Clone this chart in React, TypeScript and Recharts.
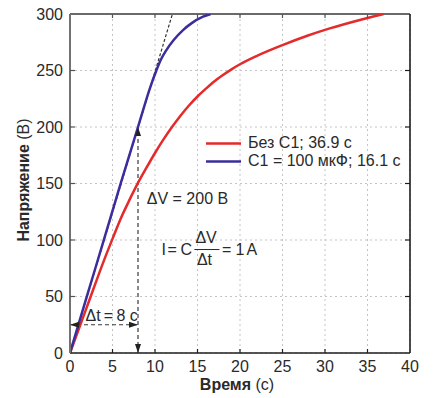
import { ComposedChart, Line, Scatter, XAxis, YAxis, CartesianGrid, Legend, ReferenceLine } from "recharts";

const X_TICKS = [0, 5, 10, 15, 20, 25, 30, 35, 40];
const Y_TICKS = [0, 50, 100, 150, 200, 250, 300];

// без C1
const redTime = [0, 2, 4, 5, 6, 7, 8, 9, 10, 11, 12, 13, 14, 15, 16, 17, 18, 19, 20, 22, 25, 28, 30, 33, 35, 36.9];
const redVolt = [0, 41, 82, 101, 119.5, 135.5, 150.5, 164, 177, 189, 200, 210, 219, 227, 234, 240.5, 246, 251, 255.5, 263, 272.5, 281, 286, 292.5, 296.5, 300];

// C1 = 100 мкФ
const blueTime = [0, 2, 4, 6, 8, 8.6, 9.3, 10.16, 10.67, 11.34, 12.2, 13.3, 14.28, 15.65, 16.55];
const blueVolt = [0, 50.5, 100.5, 151, 200, 215, 232, 250, 259.3, 268.1, 277, 285.8, 291.7, 297.6, 300];

// касательная и размерные стрелки
const tangentTime = [0, 12.05];
const tangentVolt = [0, 300];
const dtLine = [{ x: 0, y: 25 }, { x: 8, y: 25 }];
const dvLine = [{ x: 8, y: 0 }, { x: 8, y: 200 }];

const LEGEND = [
  { label: "Без C1; 36.9 c", color: "#e42a2a" },
  { label: "C1 = 100 мкФ; 16.1 c", color: "#3b2e9c" },
];

const FONT = "'Liberation Sans', Arial, sans-serif";
const INK = "#2a2a2a";

const toPoints = (xs: number[], ys: number[]) => xs.map((x, i) => ({ x, y: ys[i] }));
const redData = toPoints(redTime, redVolt);
const blueData = toPoints(blueTime, blueVolt);
const tangentData = toPoints(tangentTime, tangentVolt);

const bottomTicks = X_TICKS.slice(1, -1).map((x) => ({ x, y: 0 }));
const topTicks = X_TICKS.slice(1, -1).map((x) => ({ x, y: 300 }));
const leftTicks = Y_TICKS.slice(1, -1).map((y) => ({ x: 0, y }));
const rightTicks = Y_TICKS.slice(1, -1).map((y) => ({ x: 40, y }));

const arrowUp = [{ x: 8, y: 200 }];
const arrowDown = [{ x: 8, y: 0 }];
const arrowLeft = [{ x: 0, y: 25 }];
const arrowRight = [{ x: 8, y: 25 }];

const dtLabelPos = [{ x: 4.9, y: 28.3 }];
const dvLabelPos = [{ x: 9.03, y: 132.3 }];
const formulaPos = [{ x: 10.75, y: 86.7 }];

const tick = (dx: number, dy: number, color: string) => (p: any) =>
  <line x1={p.cx} y1={p.cy} x2={p.cx + dx} y2={p.cy + dy} stroke={color} strokeWidth={1.2} />;

const arrow = (dir: "up" | "down" | "left" | "right") => (p: any) => {
  const { cx, cy } = p;
  const L = 9, W = 3;
  let pts = "";
  if (dir === "up") pts = `${cx},${cy} ${cx - W},${cy + L} ${cx + W},${cy + L}`;
  if (dir === "down") pts = `${cx},${cy} ${cx - W},${cy - L} ${cx + W},${cy - L}`;
  if (dir === "left") pts = `${cx},${cy} ${cx + L},${cy - W} ${cx + L},${cy + W}`;
  if (dir === "right") pts = `${cx},${cy} ${cx - L},${cy - W} ${cx - L},${cy + W}`;
  return <polygon points={pts} fill="#222" />;
};

const textShape = (str: string, anchor: "start" | "middle" = "start") => (p: any) =>
  <text x={p.cx} y={p.cy} textAnchor={anchor} fontSize={16} fill={INK} fontFamily={FONT}>{str}</text>;

// I = C·ΔV/Δt = 1 A
const formulaShape = (p: any) => {
  const { cx, cy } = p;
  return (
    <g fontSize={16} fill={INK} fontFamily={FONT}>
      <text x={cx} y={cy}>I</text>
      <text x={cx + 6} y={cy}>=</text>
      <text x={cx + 19} y={cy}>C</text>
      <text x={cx + 34} y={cy - 12}>ΔV</text>
      <line x1={cx + 33} x2={cx + 58} y1={cy - 5.5} y2={cy - 5.5} stroke={INK} strokeWidth={1} />
      <text x={cx + 35.5} y={cy + 10}>Δt</text>
      <text x={cx + 60.5} y={cy}>=</text>
      <text x={cx + 74} y={cy}>1</text>
      <text x={cx + 85} y={cy}>A</text>
    </g>
  );
};

const YLabel = (props: any) => {
  const { viewBox } = props;
  const cy = viewBox.y + viewBox.height / 2 - 3.5;
  return (
    <text x={29} y={cy} transform={`rotate(-90, 29, ${cy})`} textAnchor="middle" fontSize={16} fill={INK} fontFamily={FONT}>
      <tspan fontWeight="bold">Напряжение</tspan>
      <tspan> (В)</tspan>
    </text>
  );
};

const XLabel = (props: any) => {
  const { viewBox } = props;
  const cx = viewBox.x + viewBox.width / 2 - 3;
  return (
    <text x={cx} y={390} textAnchor="middle" fontSize={16} fill={INK} fontFamily={FONT}>
      <tspan fontWeight="bold">Время</tspan>
      <tspan> (с)</tspan>
    </text>
  );
};

const LegendBox = () => (
  <div style={{ fontFamily: FONT, fontSize: 16, color: INK, lineHeight: "18px" }}>
    {LEGEND.map((item) => (
      <div key={item.label} style={{ display: "flex", alignItems: "center", height: 18 }}>
        <svg width={42} height={18}>
          <line x1={0} x2={35} y1={9.5} y2={9.5} stroke={item.color} strokeWidth={2.5} />
        </svg>
        <span style={{ whiteSpace: "nowrap" }}>{item.label}</span>
      </div>
    ))}
  </div>
);

export default function App() {
  const tickStyle = { fontSize: 16, fill: INK, fontFamily: FONT };
  return (
    <div style={{ position: "absolute", left: 0, top: 0, width: 441, height: 398, background: "#fff", fontFamily: FONT }}>
      <ComposedChart width={441} height={398} margin={{ top: 14, right: 31, bottom: 0, left: 0 }}>
        <CartesianGrid stroke="#c4c4c4" strokeDasharray="2 3" />
        <XAxis
          type="number"
          dataKey="x"
          domain={[0, 40]}
          ticks={X_TICKS}
          interval={0}
          height={45}
          tick={tickStyle}
          tickLine={false}
          tickSize={0}
          tickMargin={8}
          axisLine={{ stroke: "#1e1e1e", strokeWidth: 1.6 }}
          allowDataOverflow
          label={<XLabel />}
        />
        <YAxis
          type="number"
          domain={[0, 300]}
          ticks={Y_TICKS}
          interval={0}
          width={70}
          tick={tickStyle}
          tickLine={false}
          tickSize={0}
          tickMargin={7}
          axisLine={{ stroke: "#727272", strokeWidth: 2 }}
          allowDataOverflow
          label={<YLabel />}
        />
        <ReferenceLine y={300} stroke="#6a6a6a" strokeWidth={2} />
        <ReferenceLine x={40} stroke="#1e1e1e" strokeWidth={1.6} />

        <Line data={tangentData} dataKey="y" type="linear" stroke="#333" strokeWidth={1.2} strokeDasharray="3 2" dot={false} activeDot={false} isAnimationActive={false} />
        <Line data={dvLine} dataKey="y" type="linear" stroke="#3a3a3a" strokeWidth={1.2} strokeDasharray="4 3" dot={false} activeDot={false} isAnimationActive={false} />
        <Line data={dtLine} dataKey="y" type="linear" stroke="#3a3a3a" strokeWidth={1.2} strokeDasharray="4 3" dot={false} activeDot={false} isAnimationActive={false} />
        <Line data={redData} dataKey="y" type="monotone" stroke={LEGEND[0].color} strokeWidth={2.5} dot={false} activeDot={false} isAnimationActive={false} />
        <Line data={blueData} dataKey="y" type="monotone" stroke={LEGEND[1].color} strokeWidth={2.5} dot={false} activeDot={false} isAnimationActive={false} />

        <Scatter data={bottomTicks} dataKey="y" shape={tick(0, -4, "#1e1e1e")} isAnimationActive={false} />
        <Scatter data={topTicks} dataKey="y" shape={tick(0, 4, "#555")} isAnimationActive={false} />
        <Scatter data={leftTicks} dataKey="y" shape={tick(5, 0, "#555")} isAnimationActive={false} />
        <Scatter data={rightTicks} dataKey="y" shape={tick(-5, 0, "#1e1e1e")} isAnimationActive={false} />

        <Scatter data={arrowUp} dataKey="y" shape={arrow("up")} isAnimationActive={false} />
        <Scatter data={arrowDown} dataKey="y" shape={arrow("down")} isAnimationActive={false} />
        <Scatter data={arrowLeft} dataKey="y" shape={arrow("left")} isAnimationActive={false} />
        <Scatter data={arrowRight} dataKey="y" shape={arrow("right")} isAnimationActive={false} />

        <Scatter data={dtLabelPos} dataKey="y" shape={textShape("Δt\u2009=\u20098 c", "middle")} isAnimationActive={false} />
        <Scatter data={dvLabelPos} dataKey="y" shape={textShape("ΔV = 200 В")} isAnimationActive={false} />
        <Scatter data={formulaPos} dataKey="y" shape={formulaShape} isAnimationActive={false} />

        <Legend
          layout="vertical"
          align="center"
          verticalAlign="middle"
          content={<LegendBox />}
          wrapperStyle={{ left: 206, top: 134, width: "auto", height: "auto" }}
        />
      </ComposedChart>
    </div>
  );
}
